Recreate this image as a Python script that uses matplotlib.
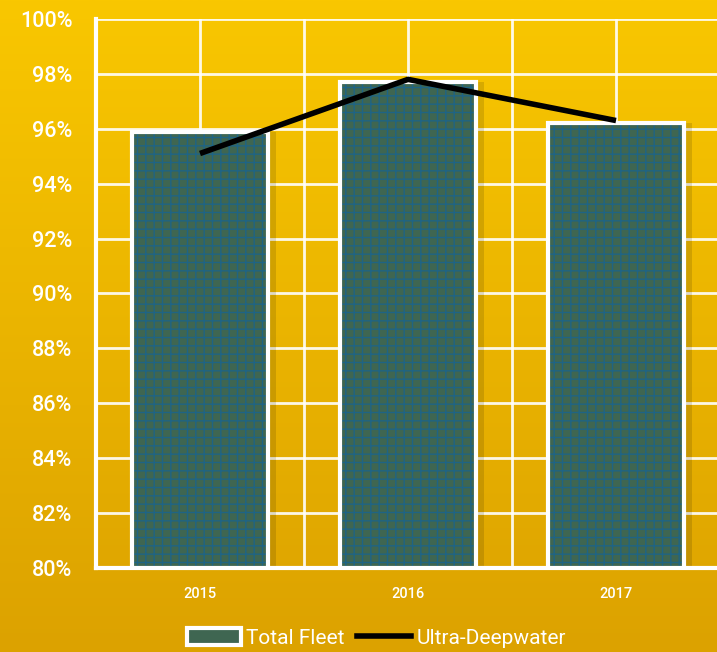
import numpy as np
import matplotlib.pyplot as plt
from matplotlib.patches import Patch
from matplotlib.lines import Line2D
from matplotlib.ticker import FixedLocator, FuncFormatter

years = ['2015', '2016', '2017']
total_fleet = [95.9, 97.7, 96.2]
ultra_deepwater = [95.1, 97.8, 96.3]

plt.rcParams['font.family'] = ['Roboto', 'DejaVu Sans']
plt.rcParams['hatch.linewidth'] = 1.0

fig = plt.figure(figsize=(7.17, 6.52), dpi=100)

# background gradient
bg = fig.add_axes([0, 0, 1, 1], zorder=-10)
grad = np.linspace(0, 1, 256).reshape(-1, 1)
top = np.array([0xF9, 0xC7, 0x00]) / 255
bot = np.array([0xDC, 0xA2, 0x00]) / 255
img = top + (bot - top) * grad[:, :, None]
bg.imshow(img, aspect='auto', extent=[0, 1, 0, 1])
bg.axis('off')

ax = fig.add_axes([0.1339, 0.1288, 0.8703, 0.8421])
ax.set_facecolor('none')

x = np.arange(len(years))
h = np.array(total_fleet) - 80
# soft shadow
ax.bar(x + 0.04, h, bottom=80, width=0.65, color='black', alpha=0.12, zorder=2)
# plaid fill
ax.bar(x, h, bottom=80, width=0.65, facecolor='#3F6651', edgecolor='#1F6484',
       hatch='++', linewidth=0, zorder=3)
# white frame
ax.bar(x, h, bottom=80, width=0.65, facecolor='none', edgecolor='white',
       linewidth=3, zorder=4)
ax.plot(x, ultra_deepwater, color='black', linewidth=4, zorder=5,
        solid_capstyle='butt')

ax.set_xlim(-0.5, 2.5)
ax.set_ylim(80, 100)
ax.xaxis.set_major_locator(FixedLocator(x))
ax.xaxis.set_minor_locator(FixedLocator([-0.5, 0.5, 1.5, 2.5]))
ax.set_xticks(x)
ax.set_xticklabels(years)
ax.set_yticks(np.arange(80, 101, 2))
ax.yaxis.set_major_formatter(FuncFormatter(lambda v, p: f'{v:.0f}%'))

ax.grid(True, which='both', color='white', linewidth=2, alpha=0.9, zorder=0)
ax.set_axisbelow(True)
for s in ['top', 'right']:
    ax.spines[s].set_visible(False)
ax.spines['left'].set_color('white')
ax.spines['left'].set_linewidth(3)
ax.spines['bottom'].set_color('white')
ax.spines['bottom'].set_linewidth(3)
ax.tick_params(which='both', length=0)
ax.tick_params(axis='y', labelsize=15.5, labelcolor='white', pad=17)
ax.tick_params(axis='x', labelsize=10.5, labelcolor='white', pad=14)
for t in ax.get_yticklabels() + ax.get_xticklabels():
    t.set_fontweight('medium')

handles = [Patch(facecolor='#3F6651', edgecolor='white', linewidth=3),
           Line2D([], [], color='black', linewidth=4)]
labels = ['Total Fleet', 'Ultra-Deepwater']
leg = fig.legend(handles, labels, loc='lower center', bbox_to_anchor=(0.525, -0.022),
                 ncol=2, frameon=False, fontsize=15, labelcolor='white',
                 handlelength=2.6, handleheight=0.9, handletextpad=0.25,
                 columnspacing=0.6)

fig.savefig('out.png', dpi=100)
